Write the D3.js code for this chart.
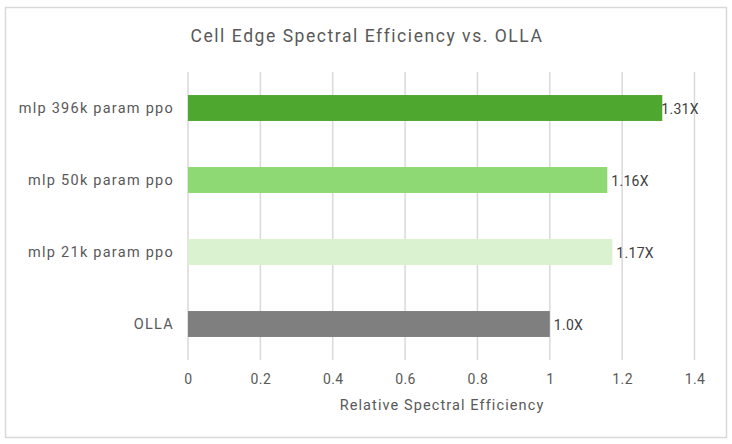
<!DOCTYPE html>
<html>
<head>
<meta charset="utf-8">
<script src="https://cdn.jsdelivr.net/npm/d3@7"></script>
<style>
  body { margin: 0; background: #fff; }
  text { font-family: Roboto, "Noto Sans", sans-serif; fill: #595959; }
</style>
</head>
<body>
<svg id="chart" width="732" height="444"></svg>
<script>
// chart data
var categories = ["mlp 396k param ppo", "mlp 50k param ppo", "mlp 21k param ppo", "OLLA"];
var values = [1.311, 1.159, 1.173, 1.0];
var valueLabels = ["1.31X", "1.16X", "1.17X", "1.0X"];
var barColors = ["#4ea72e", "#8ed973", "#daf2d0", "#7f7f7f"];
var xTicks = [0, 0.2, 0.4, 0.6, 0.8, 1, 1.2, 1.4];

var svg = d3.select("#chart");

// outer frame
svg.append("rect")
    .attr("x", 5.5).attr("y", 7.5)
    .attr("width", 721).attr("height", 430)
    .attr("fill", "#fff")
    .attr("stroke", "#d9d9d9")
    .attr("stroke-width", 1.5);

svg.append("text")
    .attr("x", 367).attr("y", 42)
    .attr("text-anchor", "middle")
    .style("font-size", "17.5px")
    .style("letter-spacing", "1.55px")
    .text("Cell Edge Spectral Efficiency vs. OLLA");

var x = d3.scaleLinear().domain([0, 1.4]).range([188, 694.5]);
var y = d3.scaleBand().domain(categories).range([72, 360]).paddingInner(0.64).paddingOuter(0.32);

// gridlines
svg.append("g")
    .selectAll("line")
    .data(xTicks)
    .enter().append("line")
    .attr("x1", function(d) { return x(d); })
    .attr("x2", function(d) { return x(d); })
    .attr("y1", 72).attr("y2", 360)
    .attr("stroke", "#d9d9d9")
    .attr("stroke-width", 1.5);

// bars
svg.append("g")
    .selectAll("rect")
    .data(categories)
    .enter().append("rect")
    .attr("x", x(0))
    .attr("y", function(d) { return y(d); })
    .attr("width", function(d, i) { return x(values[i]) - x(0); })
    .attr("height", y.bandwidth())
    .attr("fill", function(d, i) { return barColors[i]; });

// value labels
svg.append("g")
    .selectAll("text")
    .data(categories)
    .enter().append("text")
    .attr("x", function(d, i) { return x(values[i]) + (i == 0 ? -1 : 4); })
    .attr("y", function(d) { return y(d) + y.bandwidth() / 2 + 6; })
    .style("font-size", "14px")
    .style("letter-spacing", "0.3px")
    .style("fill", "#404040")
    .text(function(d, i) { return valueLabels[i]; });

// category axis
var yAxis = svg.append("g")
    .attr("transform", "translate(" + x(0) + ",0)")
    .call(d3.axisLeft(y).tickSize(0).tickPadding(14));
yAxis.select(".domain").remove();
yAxis.selectAll("text")
    .style("font-size", "14.5px")
    .style("letter-spacing", "1.25px")
    .style("fill", "#595959")
    .style("font-family", "Roboto, 'Noto Sans', sans-serif");

// value axis
var xAxis = svg.append("g")
    .attr("transform", "translate(0,360)")
    .call(d3.axisBottom(x).tickValues(xTicks).tickSize(0).tickPadding(14)
        .tickFormat(function(d) { return String(+d.toFixed(1)); }));
xAxis.select(".domain").remove();
xAxis.selectAll("text")
    .style("font-size", "14px")
    .style("letter-spacing", "0.4px")
    .style("fill", "#595959")
    .style("font-family", "Roboto, 'Noto Sans', sans-serif");

svg.append("text")
    .attr("x", 442).attr("y", 410)
    .attr("text-anchor", "middle")
    .style("font-size", "14.5px")
    .style("letter-spacing", "1.1px")
    .text("Relative Spectral Efficiency");
</script>
</body>
</html>
